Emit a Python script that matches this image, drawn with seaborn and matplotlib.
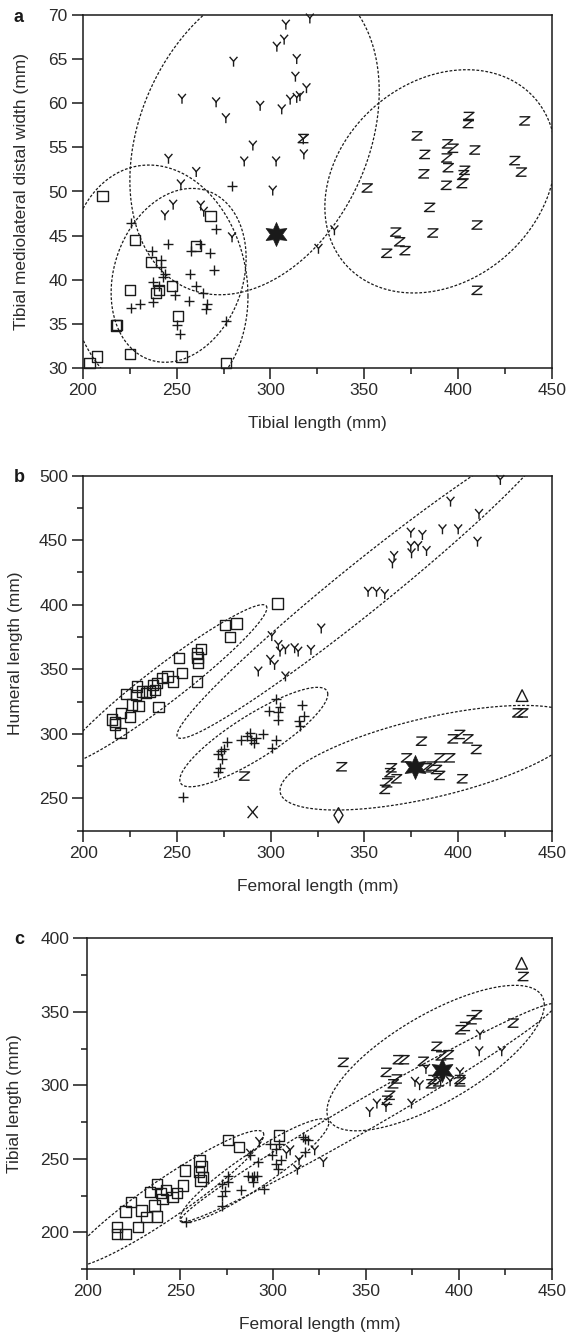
import numpy as np
import matplotlib
matplotlib.use("Agg")
import matplotlib.pyplot as plt
import seaborn as sns
from matplotlib.path import Path
from matplotlib.ticker import MultipleLocator

# ---------------- data: panel a (tibial length vs tibial distal width) ----------------
a_sq_x = [210.4, 227.8, 236.1, 225.1, 238.9, 240.7, 247.6, 250.8, 217.5, 218.0, 225.1, 252.6, 203.5, 207.4, 268.0, 260.2, 276.1]
a_sq_y = [49.5, 44.5, 42.0, 38.8, 38.5, 38.8, 39.3, 35.9, 34.8, 34.9, 31.6, 31.3, 30.6, 31.3, 47.2, 43.8, 30.6]
a_plus_x = [225.5, 236.6, 245.5, 241.6, 241.6, 237.5, 242.8, 244.0, 240.5, 225.7, 230.4, 237.5, 249.0, 256.6, 257.0, 260.5,
            264.0, 257.5, 262.3, 267.9, 271.2, 269.9, 266.2, 265.5, 249.9, 251.7, 276.1, 279.5]
a_plus_y = [46.4, 43.3, 44.0, 42.2, 41.5, 39.8, 40.3, 40.6, 39.3, 36.8, 37.3, 37.5, 38.3, 37.6, 40.6, 39.3,
            38.5, 43.3, 44.0, 43.0, 45.7, 41.1, 37.3, 36.7, 34.9, 33.9, 35.3, 50.6]
a_y_x = [308.2, 307.3, 303.4, 314.0, 313.3, 280.3, 252.8, 271.0, 276.2, 294.5, 306.0, 310.5, 314.0, 290.6, 286.0, 303.0,
         245.6, 260.4, 252.2, 301.2, 321.0, 319.2, 315.7, 317.5, 317.8, 248.1, 243.7, 262.8, 264.4, 279.5, 334.1, 325.6]
a_y_y = [68.9, 67.2, 66.4, 65.0, 63.0, 64.7, 60.5, 60.1, 58.3, 59.7, 59.3, 60.4, 60.6, 55.2, 53.4, 53.4,
         53.7, 52.2, 50.8, 50.1, 69.6, 61.7, 60.8, 55.9, 54.2, 48.5, 47.3, 48.4, 47.7, 44.8, 45.6, 43.5]
a_z_x = [405.8, 405.5, 435.6, 378.2, 394.4, 397.4, 409.0, 382.3, 394.0, 394.8, 403.6, 403.0, 430.3, 433.8, 381.8, 393.8,
         351.6, 402.2, 384.9, 410.2, 366.8, 386.6, 368.9, 371.8, 362.0, 410.2, 317.5]
a_z_y = [58.5, 57.7, 58.0, 56.3, 55.4, 54.9, 54.7, 54.2, 53.8, 52.7, 52.4, 51.9, 53.5, 52.2, 52.0, 50.7,
         50.4, 50.9, 48.2, 46.2, 45.4, 45.3, 44.3, 43.3, 43.0, 38.8, 56.0]
a_star_x = [303.0]
a_star_y = [45.2]

# ---------------- data: panel b (femoral length vs humeral length) ----------------
b_sq_x = [275.6, 281.8, 278.3, 303.7, 262.8, 260.5, 261.0, 261.4, 260.5, 251.2, 252.7, 247.9, 245.0, 242.1, 239.5, 238.3,
          237.2, 235.3, 233.3, 231.4, 228.5, 228.1, 222.7, 226.0, 229.5, 240.1, 225.0, 220.2, 215.3, 216.9, 219.8, 217.0]
b_sq_y = [384.1, 385.4, 375.1, 401.0, 365.6, 362.3, 359.0, 355.1, 340.5, 358.5, 346.9, 340.5, 344.4, 343.1, 339.2, 334.1,
          337.9, 332.8, 331.5, 332.8, 336.7, 330.3, 331.0, 322.6, 321.8, 320.8, 313.1, 316.2, 311.0, 307.2, 300.8, 309.0]
b_y_x = [422.6, 396.0, 411.2, 410.4, 391.7, 400.1, 374.8, 381.0, 374.8, 378.7, 383.2, 375.2, 365.9, 365.0, 352.0, 356.5,
         360.9, 327.0, 300.6, 304.1, 307.9, 305.0, 312.8, 314.7, 321.5, 299.8, 302.1, 293.4, 307.9]
b_y_y = [496.5, 479.7, 470.2, 448.7, 458.3, 458.3, 455.7, 453.9, 445.3, 445.3, 441.5, 439.7, 437.6, 431.9, 409.9, 409.9,
         408.1, 381.5, 375.6, 368.7, 365.4, 363.6, 366.2, 363.6, 364.9, 357.2, 353.3, 348.2, 344.4]
b_plus_x = [253.0, 272.1, 273.0, 273.8, 272.1, 273.3, 275.1, 276.5, 284.3, 288.8, 289.7, 290.9, 292.3, 295.9, 287.5, 300.9,
            303.0, 303.1, 305.0, 304.0, 299.2, 304.1, 316.7, 318.0, 315.3, 315.7]
b_plus_y = [251.0, 270.4, 273.7, 280.2, 284.0, 286.6, 287.9, 293.6, 295.6, 300.8, 295.6, 293.0, 296.9, 299.5, 298.0, 289.2,
            295.6, 327.2, 321.0, 316.7, 317.4, 311.0, 322.6, 313.6, 309.7, 305.9]
b_z_x = [337.9, 380.5, 397.3, 400.9, 405.3, 409.8, 372.5, 390.2, 395.6, 385.8, 388.5, 390.2, 402.3, 364.5, 363.7, 367.2,
         362.2, 361.0, 383.2, 431.9, 434.6, 286.0]
b_z_y = [274.5, 294.3, 296.1, 299.5, 296.1, 287.9, 281.4, 281.4, 281.4, 275.0, 272.4, 267.8, 265.2, 273.7, 269.9, 265.2,
         262.1, 257.0, 273.7, 316.2, 316.2, 267.3]
b_star_x = [377.0]
b_star_y = [274.5]
b_x_x = [290.4]
b_x_y = [239.4]
b_diam_x = [336.2]
b_diam_y = [236.9]
b_tri_x = [434.2]
b_tri_y = [329.6]

# ---------------- data: panel c (femoral length vs tibial length) ----------------
c_sq_x = [275.6, 281.5, 252.6, 251.7, 248.3, 245.8, 242.5, 260.4, 261.4, 260.0, 262.4, 261.0, 237.6, 239.6, 233.7, 240.5,
          236.1, 237.6, 231.8, 229.2, 223.4, 220.5, 227.3, 216.0, 216.0, 220.5, 303.3]
c_sq_y = [263.0, 258.0, 242.0, 231.8, 226.6, 223.9, 228.9, 248.9, 244.8, 240.9, 237.5, 235.2, 233.0, 226.6, 227.3, 222.7,
          218.2, 210.7, 210.2, 214.8, 220.5, 214.1, 203.4, 203.4, 198.9, 198.9, 265.9]
c_plus_x = [253.0, 272.5, 272.5, 272.5, 275.6, 275.6, 282.8, 287.7, 286.7, 288.7, 289.3, 291.6, 292.0, 295.1, 298.4, 299.4,
            301.4, 302.9, 304.3, 301.8, 303.3, 316.0, 317.0, 318.9, 317.0, 290.0, 274.0]
c_plus_y = [206.8, 233.0, 225.0, 218.2, 238.6, 234.1, 228.9, 252.3, 238.6, 237.5, 234.1, 238.6, 247.7, 229.5, 260.2, 252.3,
            246.6, 243.2, 248.9, 256.8, 260.2, 264.8, 263.6, 262.5, 254.5, 238.0, 228.0]
c_y_x = [292.6, 287.7, 309.2, 307.2, 314.0, 313.1, 322.4, 327.1, 352.0, 355.9, 360.8, 374.5, 376.4, 378.9, 411.4, 411.0,
         423.1, 400.6, 382.3, 395.3, 390.2]
c_y_y = [261.4, 253.4, 255.7, 253.4, 248.9, 242.5, 255.7, 247.7, 281.8, 287.5, 285.2, 287.5, 302.3, 300.0, 334.4, 323.1,
         323.1, 308.8, 311.1, 302.7, 302.7]
c_z_x = [434.7, 409.6, 406.9, 403.3, 401.0, 429.3, 337.8, 367.4, 370.5, 380.9, 360.9, 366.6, 388.1, 394.4, 390.5, 400.6,
         386.3, 364.7, 362.8, 361.4, 385.2, 389.1, 400.8]
c_z_y = [374.0, 348.0, 344.6, 340.0, 337.8, 342.3, 315.6, 317.4, 317.4, 316.3, 308.8, 304.3, 326.5, 320.8, 320.0, 303.9,
         303.9, 301.0, 293.2, 289.8, 301.0, 302.3, 302.3]
c_star_x = [390.7]
c_star_y = [310.6]
c_tri_x = [433.8]
c_tri_y = [383.0]

# ---------------- group ellipses: centre x, half range x, centre y, half range y, correlation ----------------
a_ell_cx = [291.5, 251.0, 240.0, 390.5]
a_ell_rx = [66.5, 36.0, 48.0, 61.5]
a_ell_cy = [56.3, 40.5, 39.5, 51.15]
a_ell_ry = [18.0, 9.85, 13.5, 12.65]
a_ell_r = [0.28, 0.2, -0.1, 0.23]

b_ell_cx = [243.0, 350.0, 291.0, 385.0]
b_ell_rx = [55.0, 100.0, 39.5, 80.0]
b_ell_cy = [338.0, 413.9, 297.5, 281.5]
b_ell_ry = [62.0, 117.4, 38.5, 40.5]
b_ell_r = [0.959, 0.9788, 0.86, 0.625]

c_ell_cx = [242.5, 290.0, 351.0, 387.5]
c_ell_rx = [52.5, 40.0, 101.0, 58.5]
c_ell_cy = [222.8, 242.0, 281.3, 318.5]
c_ell_ry = [46.4, 35.2, 74.3, 49.5]
c_ell_r = [0.939, 0.917, 0.987, 0.73]

# ---------------- styling ----------------
sns.set_theme(style="ticks")
plt.rcParams["font.family"] = ["Liberation Sans", "DejaVu Sans"]
INK = "#1a1a1a"
TXT = "#2b2b2b"

Y_PATH = Path([(0, -0.5), (0, 0.05), (-0.4, 0.5), (0, 0.05), (0.4, 0.5)],
              [Path.MOVETO, Path.LINETO, Path.MOVETO, Path.LINETO, Path.LINETO])
Z_PATH = Path([(-0.5, 0.4), (0.5, 0.4), (-0.5, -0.4), (0.5, -0.4)],
              [Path.MOVETO, Path.LINETO, Path.LINETO, Path.LINETO])
X_PATH = Path([(-0.42, -0.5), (0.42, 0.5), (-0.42, 0.5), (0.42, -0.5)],
              [Path.MOVETO, Path.LINETO, Path.MOVETO, Path.LINETO])

STYLES = {
    "sq": dict(marker="s", s=55, facecolor="none", edgecolor=INK, linewidth=1.0),
    "plus": dict(marker="+", s=48, color=INK, linewidth=1.0),
    "y": dict(marker=Y_PATH, s=50, facecolor="none", edgecolor=INK, linewidth=1.0),
    "z": dict(marker=Z_PATH, s=55, facecolor="none", edgecolor=INK, linewidth=1.0),
    "x": dict(marker=X_PATH, s=75, facecolor="none", edgecolor=INK, linewidth=1.0),
    "star": dict(marker=(6, 1, 0), s=300, color=INK, edgecolor=INK, linewidth=0.5),
    "diam": dict(marker="d", s=60, facecolor="none", edgecolor=INK, linewidth=1.0),
    "tri": dict(marker="^", s=70, facecolor="none", edgecolor=INK, linewidth=1.0),
}


def pts(ax, xs, ys, kind):
    sns.scatterplot(x=np.asarray(xs, float), y=np.asarray(ys, float), ax=ax, clip_on=False,
                    zorder=3, legend=False, **STYLES[kind])


def ellipses(ax, cxs, rxs, cys, rys, rs):
    t = np.linspace(0, 2 * np.pi, 400)
    for cx, rx, cy, ry, r in zip(cxs, rxs, cys, rys, rs):
        d = np.arccos(r)
        ax.plot(cx + rx * np.cos(t), cy + ry * np.cos(t - d), color=INK,
                lw=0.9, ls=(0, (2.2, 1.4)), zorder=2)


def style_axis(ax, ylim, ymaj, ymin, xlabel, ylabel, ylab_x, xlab_y, ymaj_len=8):
    ax.set_xlim(200, 450)
    ax.set_ylim(*ylim)
    ax.xaxis.set_major_locator(MultipleLocator(50))
    ax.xaxis.set_minor_locator(MultipleLocator(25))
    ax.yaxis.set_major_locator(MultipleLocator(ymaj))
    if ymin:
        ax.yaxis.set_minor_locator(MultipleLocator(ymin))
    for sp in ax.spines.values():
        sp.set_visible(True)
        sp.set_color(INK)
        sp.set_linewidth(1.1)
    ax.tick_params(axis="both", which="major", direction="out", length=8, width=1.1,
                   color=INK, labelsize=12.5, labelcolor=TXT, pad=3)
    ax.tick_params(axis="y", which="major", length=ymaj_len)
    ax.tick_params(axis="both", which="minor", direction="out", length=4.5, width=1.1, color=INK)
    ax.tick_params(top=False, right=False, which="both")
    ax.set_xlabel(xlabel, fontsize=12.5, color=TXT)
    ax.set_ylabel(ylabel, fontsize=12.5, color=TXT)
    ax.xaxis.set_label_coords(0.5, xlab_y)
    ax.yaxis.set_label_coords(ylab_x, 0.5)
    ax.grid(False)


fig = plt.figure(figsize=(5.68, 13.32), dpi=100)
W, H = 568.0, 1332.0
ax_a = fig.add_axes([83 / W, 1 - 368 / H, 468.7 / W, 353 / H])
ax_b = fig.add_axes([83.3 / W, 1 - 830.7 / H, 468.4 / W, 355.2 / H])
ax_c = fig.add_axes([87.3 / W, 1 - 1269 / H, 464.4 / W, 330.7 / H])

# panel a
ellipses(ax_a, a_ell_cx, a_ell_rx, a_ell_cy, a_ell_ry, a_ell_r)
pts(ax_a, a_sq_x, a_sq_y, "sq")
pts(ax_a, a_plus_x, a_plus_y, "plus")
pts(ax_a, a_y_x, a_y_y, "y")
pts(ax_a, a_z_x, a_z_y, "z")
pts(ax_a, a_star_x, a_star_y, "star")
style_axis(ax_a, (30, 70), 5, None, "Tibial length (mm)", "Tibial mediolateral distal width (mm)", -0.115, -0.135)

# panel b
ellipses(ax_b, b_ell_cx, b_ell_rx, b_ell_cy, b_ell_ry, b_ell_r)
pts(ax_b, b_sq_x, b_sq_y, "sq")
pts(ax_b, b_plus_x, b_plus_y, "plus")
pts(ax_b, b_y_x, b_y_y, "y")
pts(ax_b, b_z_x, b_z_y, "z")
pts(ax_b, b_x_x, b_x_y, "x")
pts(ax_b, b_diam_x, b_diam_y, "diam")
pts(ax_b, b_tri_x, b_tri_y, "tri")
pts(ax_b, b_star_x, b_star_y, "star")
style_axis(ax_b, (225, 500), 50, 25, "Femoral length (mm)", "Humeral length (mm)", -0.128, -0.136)

# panel c
ellipses(ax_c, c_ell_cx, c_ell_rx, c_ell_cy, c_ell_ry, c_ell_r)
pts(ax_c, c_sq_x, c_sq_y, "sq")
pts(ax_c, c_plus_x, c_plus_y, "plus")
pts(ax_c, c_y_x, c_y_y, "y")
pts(ax_c, c_z_x, c_z_y, "z")
pts(ax_c, c_tri_x, c_tri_y, "tri")
pts(ax_c, c_star_x, c_star_y, "star")
style_axis(ax_c, (175, 400), 50, 25, "Femoral length (mm)", "Tibial length (mm)", -0.141, -0.145, ymaj_len=10)

for lab, ypx in (("a", 17), ("b", 477), ("c", 940)):
    fig.text(19 / W, 1 - ypx / H, lab, fontsize=13, fontweight="bold", color=INK, ha="center", va="center")

fig.savefig("out.png", dpi=100)
